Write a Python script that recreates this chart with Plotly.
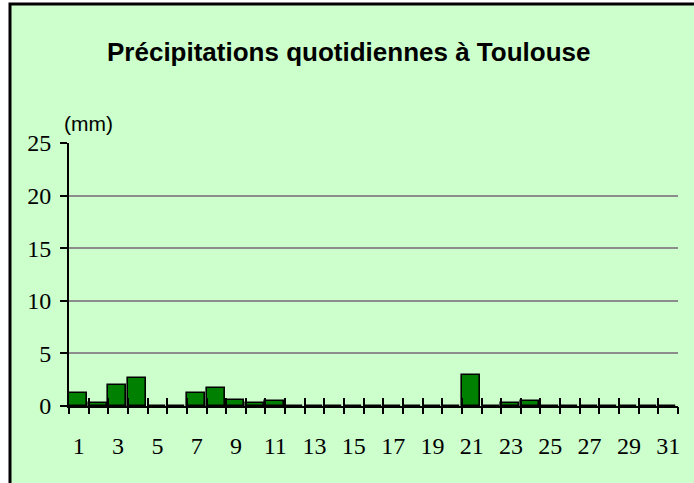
import plotly.graph_objects as go

days = list(range(1, 32))
rain_mm = [1.25, 0.3, 2.0, 2.7, 0, 0, 1.25, 1.7, 0.55, 0.3, 0.5, 0, 0, 0, 0, 0, 0, 0, 0, 0,
           2.9, 0, 0.3, 0.5, 0, 0, 0, 0, 0, 0, 0]
label_days = list(range(1, 32, 2))
title_text = "Précipitations quotidiennes à Toulouse"
unit_text = "(mm)"

BG = "#CCFFCC"
SERIF = "Liberation Serif, Times New Roman, serif"
SANS = "Liberation Sans, Arial, sans-serif"

fig = go.Figure()
fig.add_trace(go.Bar(
    x=days, y=rain_mm, width=0.92, offset=-0.5,
    marker=dict(color="#008000", line=dict(color="black", width=1.6)),
    showlegend=False, hoverinfo="x+y",
))
# invisible traces to attach the tick-only overlay axes
for ax in ["x2", "x3"]:
    fig.add_trace(go.Scatter(x=[1], y=[0], xaxis=ax, yaxis="y", mode="markers",
                             marker=dict(opacity=0), showlegend=False, hoverinfo="skip"))

L, R, T, B = 69, 16, 143, 77
W, H = 694, 483
pw = W - L - R
ph = H - T - B

rng = [0.5, 31.5]
fig.update_layout(
    width=W, height=H,
    margin=dict(l=L, r=R, t=T, b=B),
    paper_bgcolor="white",
    plot_bgcolor="rgba(0,0,0,0)",
    bargap=0,
    xaxis=dict(range=rng, tickmode="array", tickvals=label_days,
               ticktext=[str(d) for d in label_days], ticks="", showgrid=False,
               zeroline=False, showline=True, linecolor="black", linewidth=2,
               tickfont=dict(family=SERIF, size=24, color="black"),
               ticklabelstandoff=17, fixedrange=True),
    xaxis2=dict(overlaying="x", anchor="y", range=rng, tickmode="linear", tick0=0.5,
                dtick=1, ticks="outside", ticklen=7, tickwidth=2, tickcolor="black",
                showticklabels=False, showgrid=False, zeroline=False, showline=False),
    xaxis3=dict(overlaying="x", anchor="y", range=rng, tickmode="linear", tick0=0.5,
                dtick=1, ticks="inside", ticklen=8, tickwidth=2, tickcolor="black",
                showticklabels=False, showgrid=False, zeroline=False, showline=False),
    yaxis=dict(range=[0, 25], tickmode="linear", tick0=0, dtick=5, ticks="outside",
               ticklen=7, tickwidth=2, tickcolor="black", showline=True,
               linecolor="black", linewidth=2, showgrid=True, gridcolor="#8C8C8C",
               gridwidth=2, zeroline=False, ticklabelstandoff=4,
               tickfont=dict(family=SERIF, size=24, color="black"), fixedrange=True),
    shapes=[
        dict(type="rect", xref="paper", yref="paper",
             x0=(10 - L) / pw, x1=(W + 5 - L) / pw,
             y0=-(B + 10) / ph, y1=1 + (T - 4) / ph,
             fillcolor=BG, line=dict(color="black", width=3), layer="below"),
    ],
    annotations=[
        dict(text="<b>" + title_text + "</b>", xref="paper", yref="paper",
             x=(348.5 - L) / pw, y=1 + (T - 52) / ph, xanchor="center", yanchor="middle",
             showarrow=False, font=dict(family=SANS, size=26, color="black")),
        dict(text=unit_text, xref="paper", yref="paper",
             x=(88 - L) / pw, y=1 + (T - 124) / ph, xanchor="center", yanchor="middle",
             showarrow=False, font=dict(family=SANS, size=21, color="black")),
    ],
)

fig.write_html("out.html", config={"displayModeBar": False},
               post_script="document.body.style.margin='0';")
